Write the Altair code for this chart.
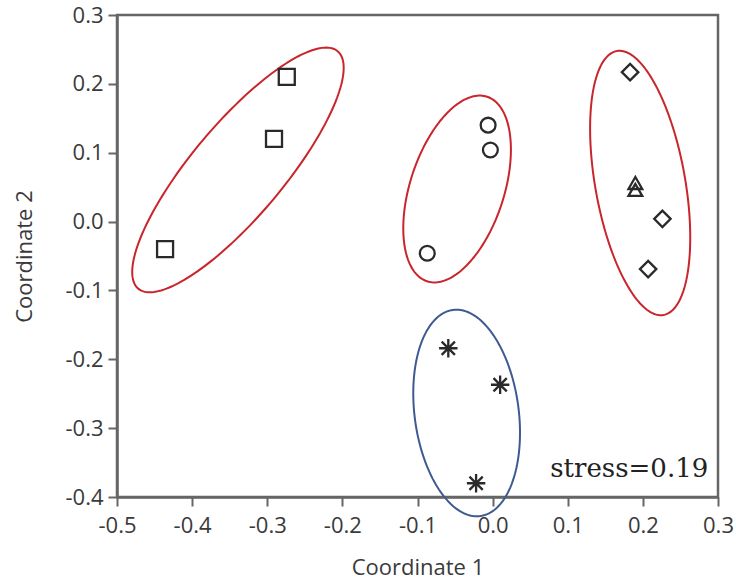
import numpy as np
import pandas as pd
import altair as alt

# NMDS ordination scores, one marker shape per group
group = ["A", "A", "A", "B", "B", "B", "C", "C", "C", "D", "D", "E", "E", "E"]
coord1 = [-0.274, -0.291, -0.436, -0.006, -0.003, -0.087,
          0.183, 0.226, 0.207, 0.190, 0.190, -0.059, 0.010, -0.022]
coord2 = [0.210, 0.120, -0.040, 0.140, 0.104, -0.046,
          0.217, 0.004, -0.069, 0.056, 0.046, -0.184, -0.237, -0.380]

group_names = ["A", "B", "C", "D", "E"]
asterisk = "M-1,0L1,0M0,-1L0,1M-0.72,-0.72L0.72,0.72M-0.72,0.72L0.72,-0.72"
group_shapes = ["square", "circle", "diamond", "triangle-up", asterisk]
group_sizes = [256, 220, 270, 190, 340]

# Cluster ellipses: centre and two conjugate semi-axes (data units)
ell_names = ["E1", "E2", "E3", "E4"]
ell_cx = [-0.339, -0.0473, 0.1964, -0.0346]
ell_cy = [0.075, 0.0473, 0.056, -0.278]
ell_ux = [0.1327, 0.0399, -0.0310, -0.0181]
ell_uy = [0.1724, 0.134, 0.1917, 0.1497]
ell_vx = [0.0469, 0.0595, 0.0590, 0.0687]
ell_vy = [-0.0430, -0.0211, 0.0113, 0.0099]
ell_colors = ["#c8262c", "#c8262c", "#c8262c", "#3f5a92"]

x_ticks = [-0.5, -0.4, -0.3, -0.2, -0.1, 0.0, 0.1, 0.2, 0.3]
y_ticks = [-0.4, -0.3, -0.2, -0.1, 0.0, 0.1, 0.2, 0.3]
stress_label = "stress=0.19"

points = pd.DataFrame({"group": group, "x": coord1, "y": coord2})

# outline of each ellipse, traced around its parametric angle
t = np.linspace(0, 2 * np.pi, 181)
rows = []
for i, name in enumerate(ell_names):
    xs = ell_cx[i] + ell_ux[i] * np.cos(t) + ell_vx[i] * np.sin(t)
    ys = ell_cy[i] + ell_uy[i] * np.cos(t) + ell_vy[i] * np.sin(t)
    for k in range(len(t)):
        rows.append({"ring": name, "k": k, "x": float(xs[k]), "y": float(ys[k])})
rings = pd.DataFrame(rows)

label_expr = "replace(format(datum.value, '.1f'), '\u2212', '-')"

x_enc = alt.X(
    "x:Q",
    scale=alt.Scale(domain=[-0.5, 0.3], nice=False, zero=False),
    axis=alt.Axis(title="Coordinate 1", values=x_ticks, labelExpr=label_expr,
                  labelFlush=False, labelOverlap=False, labelPadding=9, titlePadding=21),
)
y_enc = alt.Y(
    "y:Q",
    scale=alt.Scale(domain=[-0.4, 0.3], nice=False, zero=False),
    axis=alt.Axis(title="Coordinate 2", values=y_ticks, labelExpr=label_expr,
                  labelFlush=False, labelOverlap=False, labelPadding=5, titlePadding=28),
)

ellipses = alt.Chart(rings).mark_line(clip=False, strokeWidth=2).encode(
    x=x_enc,
    y=y_enc,
    order="k:Q",
    color=alt.Color("ring:N", scale=alt.Scale(domain=ell_names, range=ell_colors), legend=None),
)

layers = [ellipses]
for name, shape, size in zip(group_names, group_shapes, group_sizes):
    layers.append(
        alt.Chart(points).transform_filter(alt.datum.group == name)
        .mark_point(filled=False, shape=shape, size=size, strokeWidth=2.3,
                    color="#2a2a2a", opacity=1)
        .encode(x="x:Q", y="y:Q")
    )

stress = alt.Chart(pd.DataFrame({"x": [0.287], "y": [-0.371], "t": [stress_label]})).mark_text(
    align="right", baseline="alphabetic", font="DejaVu Serif", fontSize=26, color="#222"
).encode(x="x:Q", y="y:Q", text="t:N")
layers.append(stress)

chart = alt.layer(*layers).properties(
    width=601,
    height=482,
    autosize=alt.AutoSizeParams(type="none"),
    padding={"left": 117, "top": 15, "right": 18, "bottom": 87},
).configure_view(
    stroke="#666", strokeWidth=2.5
).configure_axis(
    domainColor="#666", domainWidth=2.5, tickColor="#666", tickWidth=2, tickSize=9,
    labelFont="Open Sans", labelFontSize=22, labelColor="#3a3a3a",
    titleFont="Open Sans", titleFontSize=22, titleFontWeight="normal", titleColor="#3a3a3a",
    grid=False,
)

chart.save("out.html", embed_options={"renderer": "svg", "actions": False})
